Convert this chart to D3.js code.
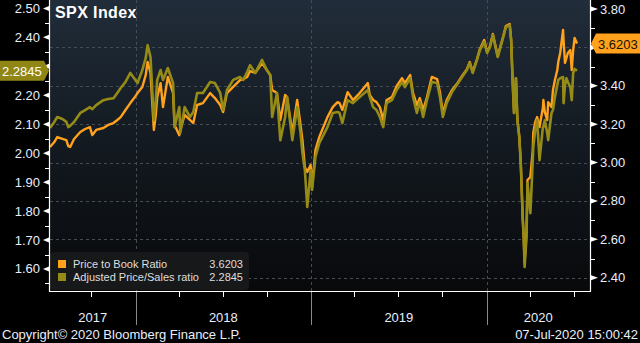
<!DOCTYPE html>
<html>
<head>
<meta charset="utf-8">
<script src="https://cdn.jsdelivr.net/npm/d3@7"></script>
<style>
  html, body { margin: 0; padding: 0; background: #000; }
  svg { display: block; }
  text { font-family: "Liberation Sans", Arial, sans-serif; }
</style>
</head>
<body>
<svg id="chart" width="640" height="343"></svg>
<script>
// ---------------- DATA ----------------
const dates = [
"2017-07-07","2017-07-16","2017-07-22","2017-08-02","2017-08-10","2017-08-14","2017-08-18","2017-08-26",
"2017-09-08","2017-09-18","2017-09-28","2017-10-03","2017-10-11","2017-10-26","2017-11-05","2017-11-16",
"2017-11-24","2017-12-01","2017-12-11","2017-12-21","2017-12-29",
"2018-01-05","2018-01-15","2018-01-22","2018-01-26","2018-02-01","2018-02-08","2018-02-12","2018-02-15",
"2018-02-22","2018-02-27","2018-03-09","2018-03-20","2018-03-23","2018-04-02","2018-04-04","2018-04-13",
"2018-04-24","2018-05-01","2018-05-09","2018-05-21","2018-06-05","2018-06-15","2018-06-26","2018-07-02",
"2018-07-10","2018-07-23","2018-08-06","2018-08-13","2018-08-21","2018-08-27","2018-09-07","2018-09-21",
"2018-10-01","2018-10-08","2018-10-12","2018-10-22","2018-10-29","2018-11-08","2018-11-12","2018-11-23",
"2018-12-03","2018-12-10","2018-12-14","2018-12-19","2018-12-24","2018-12-31",
"2019-01-03","2019-01-10","2019-01-18","2019-02-04","2019-02-15","2019-02-25","2019-03-01","2019-03-07",
"2019-03-18","2019-03-29","2019-04-12","2019-04-29","2019-05-03","2019-05-10","2019-05-17","2019-05-24",
"2019-05-31","2019-06-07","2019-06-18","2019-06-28","2019-07-09","2019-07-15","2019-07-26","2019-08-01",
"2019-08-09","2019-08-15","2019-08-22","2019-08-30","2019-09-09","2019-09-20","2019-09-26","2019-10-02",
"2019-10-10","2019-10-21","2019-10-31","2019-11-11","2019-11-21","2019-11-27","2019-12-03","2019-12-12",
"2019-12-18","2019-12-27",
"2020-01-02","2020-01-08","2020-01-14","2020-01-24","2020-02-03","2020-02-10","2020-02-18","2020-02-21",
"2020-02-24","2020-02-27","2020-03-02","2020-03-05","2020-03-09","2020-03-12","2020-03-16","2020-03-18",
"2020-03-20","2020-03-24","2020-03-26","2020-04-01","2020-04-06","2020-04-07","2020-04-11","2020-04-15",
"2020-04-20","2020-04-27","2020-04-28","2020-05-01","2020-05-06","2020-05-08","2020-05-15","2020-05-18",
"2020-05-22","2020-05-27","2020-05-29","2020-06-02","2020-06-08","2020-06-09","2020-06-12","2020-06-15",
"2020-06-18","2020-06-23","2020-06-26","2020-06-29","2020-07-02","2020-07-07"
];

// Price to Book Ratio (right axis, orange)
const priceToBook = [
3.081,3.107,3.133,3.123,3.117,3.086,3.081,3.123,
3.159,3.175,3.185,3.143,3.170,3.180,3.196,3.206,
3.222,3.237,3.274,3.310,3.336,
3.362,3.394,3.456,3.524,3.467,3.170,3.248,3.341,
3.414,3.289,3.446,3.362,3.196,3.143,3.170,3.248,
3.222,3.206,3.300,3.310,3.362,3.336,3.300,3.263,
3.362,3.394,3.430,3.435,3.446,3.477,3.467,3.519,
3.482,3.456,3.378,3.362,3.222,3.352,3.341,3.154,
3.326,3.196,3.117,2.977,2.951,2.987,
2.872,3.065,3.133,3.237,3.289,3.315,3.310,3.274,
3.367,3.326,3.362,3.414,3.352,3.326,3.315,3.289,
3.222,3.326,3.341,3.399,3.440,3.414,3.456,3.362,
3.300,3.336,3.274,3.341,3.446,3.435,3.367,3.258,
3.326,3.378,3.409,3.451,3.487,3.524,3.472,3.539,
3.592,3.638,
3.576,3.607,3.670,3.555,3.644,3.711,3.722,3.638,
3.430,3.258,3.440,3.222,3.133,2.998,2.716,2.622,
2.482,2.638,2.909,2.925,3.065,3.154,3.211,3.237,
3.185,3.284,3.326,3.263,3.222,3.315,3.289,3.378,
3.430,3.482,3.524,3.571,3.691,3.638,3.519,3.545,
3.571,3.586,3.482,3.586,3.649,3.6203
];

// Adjusted Price/Sales ratio (left axis, olive)
const adjPriceSales = [
2.087,2.108,2.125,2.118,2.108,2.090,2.094,2.108,
2.139,2.149,2.159,2.152,2.166,2.183,2.187,2.190,
2.208,2.225,2.246,2.277,2.259,
2.242,2.287,2.328,2.373,2.332,2.114,2.183,2.253,
2.287,2.253,2.294,2.242,2.090,2.159,2.070,2.159,
2.125,2.142,2.208,2.208,2.246,2.242,2.208,2.149,
2.218,2.253,2.263,2.253,2.280,2.304,2.277,2.322,
2.287,2.270,2.125,2.208,2.045,2.125,2.194,2.045,
2.159,2.070,2.001,1.942,1.814,1.942,
1.873,1.987,2.035,2.090,2.139,2.142,2.139,2.104,
2.183,2.173,2.194,2.218,2.194,2.159,2.149,2.125,
2.090,2.173,2.183,2.218,2.246,2.228,2.259,2.194,
2.139,2.177,2.125,2.183,2.246,2.242,2.194,2.125,
2.173,2.211,2.235,2.263,2.287,2.311,2.277,2.322,
2.356,2.384,
2.346,2.366,2.408,2.332,2.391,2.435,2.442,2.391,
2.253,2.139,2.259,2.114,2.056,1.966,1.780,1.711,
1.607,1.711,1.897,1.793,1.976,2.021,2.080,2.114,
1.976,2.090,2.090,2.114,2.070,2.045,2.139,2.149,
2.194,2.235,2.253,2.259,2.263,2.173,2.235,2.259,
2.246,2.228,2.183,2.277,2.291,2.2845
];

const leftTicks  = [1.60,1.70,1.80,1.90,2.00,2.10,2.20,2.30,2.40,2.50];
const rightTicks = [2.40,2.60,2.80,3.00,3.20,3.40,3.60,3.80];
const yearLabels = ["2017","2018","2019","2020"];
const seriesNames = ["Price to Book Ratio","Adjusted Price/Sales ratio"];
const titleText = "SPX Index";
const copyrightText = "Copyright\u00A9 2020 Bloomberg Finance L.P.";
const stampText = "07-Jul-2020 15:00:42";

// ---------------- SETUP ----------------
const W = 640, H = 343;
const plot = {left: 50, right: 590, top: 0, bottom: 291};
const colPB = "#ffa11c", colPS = "#958b17";
const textCol = "#e8eefa";

const parse = d3.timeParse("%Y-%m-%d");
const data = dates.map((d, i) => ({date: parse(d), pb: priceToBook[i], ps: adjPriceSales[i]}));

const x = d3.scaleTime()
  .domain([parse("2017-07-07"), parse("2020-08-03")])
  .range([plot.left, plot.right]);
const yL = d3.scaleLinear().domain([1.524, 2.529]).range([plot.bottom, plot.top]);
const yR = d3.scaleLinear().domain([2.331, 3.847]).range([plot.bottom, plot.top]);

const lastPS = adjPriceSales[adjPriceSales.length - 1];
const lastPB = priceToBook[priceToBook.length - 1];
const tagPSy = yL(lastPS), tagPBy = yR(lastPB);

const svg = d3.select("#chart");
svg.append("rect").attr("width", W).attr("height", H).attr("fill", "#000");

const defs = svg.append("defs");
const grad = defs.append("linearGradient").attr("id", "bg").attr("x1", 0).attr("y1", 0).attr("x2", 0).attr("y2", 1);
grad.append("stop").attr("offset", "0%").attr("stop-color", "#212d3a");
grad.append("stop").attr("offset", "45%").attr("stop-color", "#141b22");
grad.append("stop").attr("offset", "100%").attr("stop-color", "#08090b");

svg.append("rect")
  .attr("x", plot.left).attr("y", plot.top)
  .attr("width", plot.right - plot.left).attr("height", plot.bottom - plot.top)
  .attr("fill", "url(#bg)");

// ---------------- GRID ----------------
const grid = svg.append("g").attr("stroke", "#464c54").attr("stroke-width", 1).attr("stroke-dasharray", "3,3");
rightTicks.filter(v => v < 3.7).forEach(v => {
  grid.append("line")
    .attr("x1", plot.left).attr("x2", plot.right)
    .attr("y1", Math.round(yR(v)) + 0.5).attr("y2", Math.round(yR(v)) + 0.5);
});
const yearStarts = d3.timeYear.range(x.domain()[0], x.domain()[1]).filter(d => d > x.domain()[0]);
yearStarts.forEach(d => {
  grid.append("line")
    .attr("x1", Math.round(x(d)) + 0.5).attr("x2", Math.round(x(d)) + 0.5)
    .attr("y1", plot.top).attr("y2", plot.bottom);
});

// ---------------- LINES ----------------
const linePB = d3.line().x(d => x(d.date)).y(d => yR(d.pb));
const linePS = d3.line().x(d => x(d.date)).y(d => yL(d.ps));
svg.append("path").datum(data).attr("d", linePB)
  .attr("fill", "none").attr("stroke", colPB).attr("stroke-width", 2.4).attr("stroke-linejoin", "round");
svg.append("path").datum(data).attr("d", linePS)
  .attr("fill", "none").attr("stroke", colPS).attr("stroke-width", 2.6).attr("stroke-linejoin", "round");

// ---------------- TITLE ----------------
svg.append("text").attr("x", 55).attr("y", 18)
  .attr("fill", "#ffffff").attr("font-size", 16).attr("font-weight", "bold")
  .attr("letter-spacing", 0.4)
  .text(titleText);

// ---------------- LEGEND ----------------
const lg = svg.append("g");
lg.append("rect").attr("x", 50).attr("y", 252).attr("width", 199).attr("height", 38).attr("rx", 4)
  .attr("fill", "#17181a");
const legendRows = [
  {name: seriesNames[0], color: colPB, value: lastPB},
  {name: seriesNames[1], color: colPS, value: lastPS}
];
legendRows.forEach((r, i) => {
  const yy = 260 + i * 13;
  lg.append("rect").attr("x", 58).attr("y", yy).attr("width", 8).attr("height", 8).attr("fill", r.color);
  lg.append("text").attr("x", 73).attr("y", yy + 8).attr("fill", "#dedede").attr("font-size", 11).text(r.name);
  lg.append("text").attr("x", 243).attr("y", yy + 8).attr("fill", "#dedede").attr("font-size", 11)
    .attr("text-anchor", "end").text(r.value.toFixed(4));
});

// ---------------- AXES ----------------
const axes = svg.append("g");
axes.append("line").attr("x1", plot.left - 0.5).attr("x2", plot.left - 0.5)
  .attr("y1", plot.top).attr("y2", plot.bottom + 0.5).attr("stroke", "#fff").attr("stroke-width", 1.2);
axes.append("line").attr("x1", plot.right + 0.5).attr("x2", plot.right + 0.5)
  .attr("y1", plot.top).attr("y2", plot.bottom + 0.5).attr("stroke", "#fff").attr("stroke-width", 1.2);
axes.append("line").attr("x1", plot.left - 1).attr("x2", plot.right + 1)
  .attr("y1", plot.bottom + 0.5).attr("y2", plot.bottom + 0.5).attr("stroke", "#fff").attr("stroke-width", 1.2);

// left ticks (labels hidden behind the last-value tag are skipped, as in the reference)
leftTicks.forEach(v => {
  const yy = yL(v);
  axes.append("path").attr("d", `M${plot.left - 1},${yy - 2.5}L${plot.left - 1},${yy + 2.5}L${plot.left - 7},${yy}Z`)
    .attr("fill", "#fff");
  if (Math.abs(yy - tagPSy) > 14) {
    axes.append("text").attr("x", 40).attr("y", yy + 4.5).attr("text-anchor", "end")
      .attr("fill", textCol).attr("font-size", 13).text(v.toFixed(2));
  }
  const ym = yL(v + 0.05);
  if (ym > plot.top + 1) {
    axes.append("line").attr("x1", plot.left - 5).attr("x2", plot.left)
      .attr("y1", Math.round(ym) + 0.5).attr("y2", Math.round(ym) + 0.5).attr("stroke", "#fff");
  }
});
{
  const ym = yL(leftTicks[0] - 0.05);
  axes.append("line").attr("x1", plot.left - 5).attr("x2", plot.left)
    .attr("y1", Math.round(ym) + 0.5).attr("y2", Math.round(ym) + 0.5).attr("stroke", "#fff");
}
// right ticks
rightTicks.forEach(v => {
  const yy = yR(v);
  axes.append("path").attr("d", `M${plot.right + 1},${yy - 2.5}L${plot.right + 1},${yy + 2.5}L${plot.right + 8},${yy}Z`)
    .attr("fill", "#fff");
  if (Math.abs(yy - tagPBy) > 14) {
    axes.append("text").attr("x", 600).attr("y", yy + 4.5)
      .attr("fill", textCol).attr("font-size", 13).text(v.toFixed(2));
  }
  const ym = yR(v + 0.1);
  if (ym > plot.top + 1) {
    axes.append("line").attr("x1", plot.right).attr("x2", plot.right + 5)
      .attr("y1", Math.round(ym) + 0.5).attr("y2", Math.round(ym) + 0.5).attr("stroke", "#fff");
  }
});
{
  const ym = yR(rightTicks[0] - 0.1);
  if (ym < plot.bottom - 1)
    axes.append("line").attr("x1", plot.right).attr("x2", plot.right + 5)
      .attr("y1", Math.round(ym) + 0.5).attr("y2", Math.round(ym) + 0.5).attr("stroke", "#fff");
}

// x ticks: quarters
const quarters = d3.timeMonth.every(3).range(x.domain()[0], x.domain()[1]).filter(d => d.getMonth() !== 0);
quarters.forEach(d => {
  const xx = Math.round(x(d)) + 0.5;
  axes.append("line").attr("x1", xx).attr("x2", xx).attr("y1", plot.bottom).attr("y2", plot.bottom + 6)
    .attr("stroke", "#fff");
});
yearStarts.forEach(d => {
  const xx = Math.round(x(d)) + 0.5;
  axes.append("line").attr("x1", xx).attr("x2", xx).attr("y1", plot.bottom + 1).attr("y2", 325)
    .attr("stroke", "#8a8a8a");
});
yearLabels.forEach(yl => {
  const s = d3.max([parse(yl + "-01-01"), x.domain()[0]]);
  const e = d3.min([parse((+yl + 1) + "-01-01"), x.domain()[1]]);
  axes.append("text").attr("x", (x(s) + x(e)) / 2).attr("y", 322).attr("text-anchor", "middle")
    .attr("fill", textCol).attr("font-size", 13).text(yl);
});

// ---------------- LAST VALUE TAGS ----------------
svg.append("path").attr("d", `M0,${tagPSy - 10}L44,${tagPSy - 10}L49,${tagPSy}L44,${tagPSy + 10}L0,${tagPSy + 10}Z`).attr("fill", "#8f8616");
svg.append("text").attr("x", 2).attr("y", tagPSy + 5).attr("fill", "#ffffff").attr("font-size", 13).text(lastPS.toFixed(4));
svg.append("path").attr("d", `M640,${tagPBy - 10}L596,${tagPBy - 10}L591,${tagPBy}L596,${tagPBy + 10}L640,${tagPBy + 10}Z`).attr("fill", colPB);
svg.append("text").attr("x", 598).attr("y", tagPBy + 5).attr("fill", "#1a1206").attr("font-size", 13).text(lastPB.toFixed(4));

// ---------------- FOOTER ----------------
svg.append("text").attr("x", 2).attr("y", 339).attr("fill", textCol).attr("font-size", 13).text(copyrightText);
svg.append("text").attr("x", 638).attr("y", 339).attr("text-anchor", "end").attr("fill", textCol).attr("font-size", 13).text(stampText);
</script>
</body>
</html>
